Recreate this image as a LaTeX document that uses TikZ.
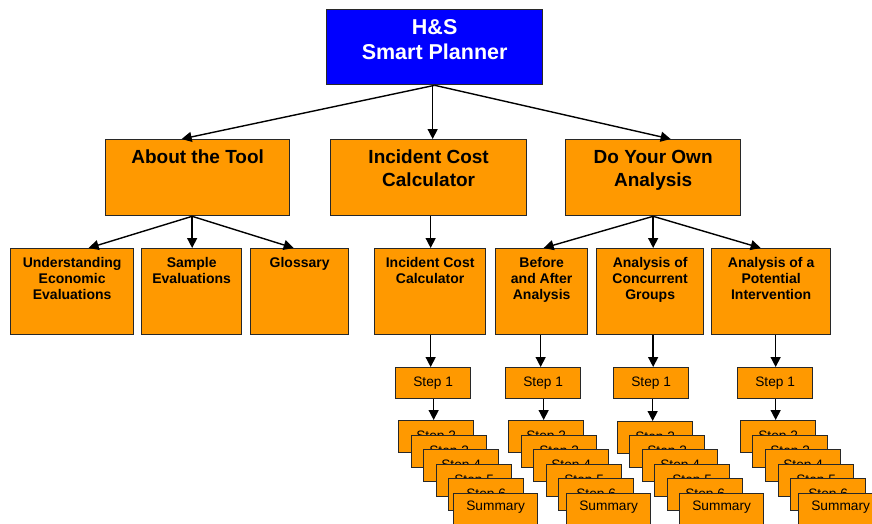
\documentclass[tikz,border=0pt]{standalone}
\usepackage{fontspec}
\setmainfont{Liberation Sans}
\usetikzlibrary{arrows.meta}
\definecolor{boxorange}{RGB}{255,153,0}
\definecolor{boxblue}{RGB}{0,0,255}
\definecolor{edgegray}{RGB}{40,40,40}
\newcommand\boxlabel[4]{\parbox[t][#2pt][t]{#1pt}{\centering\rule{0pt}{#3pt}#4}}
\begin{document}
\begin{tikzpicture}[x=1pt,y=-1pt,
  box/.style={draw=edgegray, fill=boxorange, line width=1.3pt, inner sep=0pt, anchor=north west},
  topbox/.style={box, fill=boxblue, text=white, font=\fontsize{21.5}{25}\selectfont\bfseries},
  big/.style={box, font=\fontsize{19}{22.7}\selectfont\bfseries},
  small/.style={box, font=\fontsize{14}{16}\selectfont\bfseries},
  stepbox/.style={box, minimum width=75pt, minimum height=32pt, font=\fontsize{13.7}{16}\selectfont},
  sumbox/.style={box, minimum width=84pt, minimum height=32pt, font=\fontsize{13.7}{16}\selectfont},
  arr/.style={draw=black, line width=1.4pt, -{Triangle[length=10pt,width=10pt]}}]
\useasboundingbox (0,0) rectangle (872,523);

% top
\node[topbox] (top) at (326,9) {\boxlabel{216}{75}{25}{H\&S\\Smart Planner}};

% level 2
\node[big] (about) at (105,139) {\boxlabel{184}{76}{24}{About the Tool}};
\node[big] (icc) at (330,139) {\boxlabel{196}{76}{24}{Incident Cost\\Calculator}};
\node[big] (dyo) at (565,139) {\boxlabel{175}{76}{24}{Do Your Own\\Analysis}};

% level 3
\node[small] (und) at (10,248) {\boxlabel{123}{86}{19}{Understanding\\Economic\\Evaluations}};
\node[small] (samp) at (141,248) {\boxlabel{100}{86}{19}{Sample\\Evaluations}};
\node[small] (glos) at (250,248) {\boxlabel{98}{86}{19}{Glossary}};
\node[small] (icc2) at (374,248) {\boxlabel{111}{86}{19}{Incident Cost\\Calculator}};
\node[small] (baa) at (495,248) {\boxlabel{92}{86}{19}{Before\\and After\\Analysis}};
\node[small] (con) at (596,248) {\boxlabel{107}{86}{19}{Analysis of\\Concurrent\\Groups}};
\node[small] (pot) at (711,248) {\boxlabel{119}{86}{19}{Analysis of a\\Potential\\Intervention}};

% step 1 boxes
\node[stepbox, minimum height=31pt] (sa1) at (395,367) {Step 1};
\node[stepbox, minimum height=31pt] (sb1) at (505,367) {Step 1};
\node[stepbox, minimum height=31pt] (sc1) at (613,367) {Step 1};
\node[stepbox, minimum height=31pt] (sd1) at (737,367) {Step 1};

% stacks
\node[stepbox] (sa2) at (398,420) {Step 2};
\node[stepbox] (sa3) at (411,435) {Step 3};
\node[stepbox] (sa4) at (423,449) {Step 4};
\node[stepbox] (sa5) at (436,464) {Step 5};
\node[stepbox] (sa6) at (448,478) {Step 6};
\node[sumbox] (sas) at (453,493) {\raisebox{2.5pt}[\height][\depth]{Summary}};

\node[stepbox] (sb2) at (508,420) {Step 2};
\node[stepbox] (sb3) at (521,435) {Step 3};
\node[stepbox] (sb4) at (533,449) {Step 4};
\node[stepbox] (sb5) at (546,464) {Step 5};
\node[stepbox] (sb6) at (558,478) {Step 6};
\node[sumbox] (sbs) at (566,493) {\raisebox{2.5pt}[\height][\depth]{Summary}};

\node[stepbox] (sc2) at (617,421) {Step 2};
\node[stepbox] (sc3) at (629,435) {Step 3};
\node[stepbox] (sc4) at (642,449) {Step 4};
\node[stepbox] (sc5) at (654,464) {Step 5};
\node[stepbox] (sc6) at (667,478) {Step 6};
\node[sumbox] (scs) at (679,493) {\raisebox{2.5pt}[\height][\depth]{Summary}};

\node[stepbox] (sd2) at (740,420) {Step 2};
\node[stepbox] (sd3) at (752,435) {Step 3};
\node[stepbox] (sd4) at (765,449) {Step 4};
\node[stepbox] (sd5) at (778,464) {Step 5};
\node[stepbox] (sd6) at (790,478) {Step 6};
\node[sumbox] (sds) at (798,493) {\raisebox{2.5pt}[\height][\depth]{Summary}};

% connectors top
\draw[arr] (top.south) -- ([xshift=-16pt]about.north);
\draw[arr] ([xshift=-2pt]top.south) -- ([xshift=-2pt]top.south |- icc.north);
\draw[arr] (top.south) -- ([xshift=17.5pt]dyo.north);

% about -> children
\draw[arr] ([xshift=-5.5pt]about.south) -- ([xshift=16.5pt]und.north);
\draw[arr] ([xshift=-5.5pt]about.south) -- ([xshift=-5.5pt]about.south |- samp.north);
\draw[arr] ([xshift=-5.5pt]about.south) -- ([xshift=-6pt]glos.north);

% icc -> icc2
\draw[arr] ([xshift=0.5pt]icc2.north |- icc.south) -- ([xshift=0.5pt]icc2.north);

% dyo -> children
\draw[arr] (dyo.south) -- ([xshift=2pt]baa.north);
\draw[arr] (dyo.south) -- (dyo.south |- con.north);
\draw[arr] (dyo.south) -- ([xshift=-10.5pt]pot.north);

% level 3 -> step 1
\draw[arr] ([xshift=0.5pt]icc2.south) -- ([xshift=0.5pt]icc2.south |- sa1.north);
\draw[arr] ([xshift=-1pt]baa.south) -- ([xshift=-1pt]baa.south |- sb1.north);
\draw[arr] ([xshift=3pt]con.south) -- ([xshift=3pt]con.south |- sc1.north);
\draw[arr] ([xshift=4.5pt]pot.south) -- ([xshift=4.5pt]pot.south |- sd1.north);

% step 1 -> step 2
\draw[arr] ([xshift=0.5pt]sa1.south) -- ([xshift=0.5pt]sa1.south |- sa2.north);
\draw[arr] ([xshift=0.5pt]sb1.south) -- ([xshift=0.5pt]sb1.south |- sb2.north);
\draw[arr] ([xshift=1.5pt]sc1.south) -- ([xshift=1.5pt]sc1.south |- sc2.north);
\draw[arr] ([xshift=0.5pt]sd1.south) -- ([xshift=0.5pt]sd1.south |- sd2.north);
\end{tikzpicture}
\end{document}
